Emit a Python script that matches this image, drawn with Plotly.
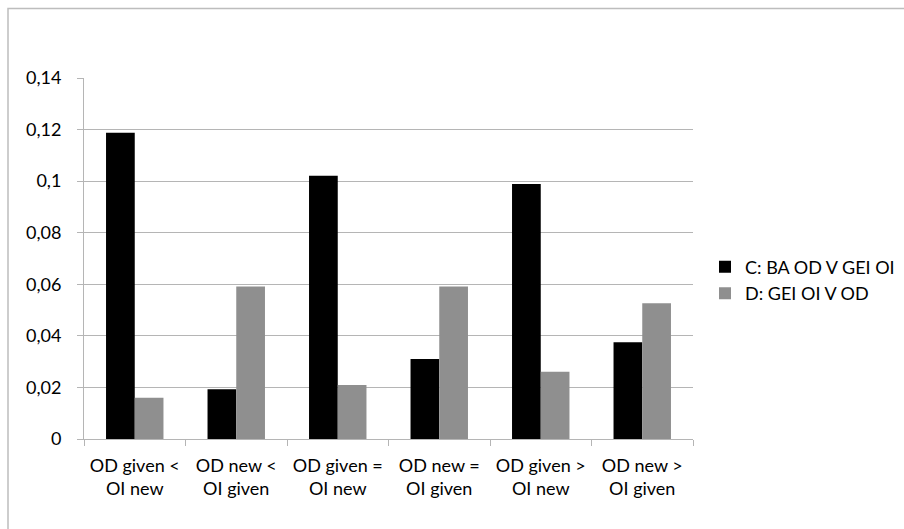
"""Grouped bar chart: C vs D share per OD/OI comparison."""

import plotly.graph_objects as go

categories = [
    "OD given &lt;<br>OI new",
    "OD new &lt;<br>OI given",
    "OD given =<br>OI new",
    "OD new =<br>OI given",
    "OD given &gt;<br>OI new",
    "OD new &gt;<br>OI given",
]
series_c_name = "C: BA OD V GEI OI"
series_c = [0.1188, 0.0193, 0.1021, 0.0310, 0.0989, 0.0375]
series_d_name = "D: GEI OI V OD"
series_d = [0.0160, 0.0591, 0.0209, 0.0591, 0.0261, 0.0526]
y_ticks = [0, 0.02, 0.04, 0.06, 0.08, 0.1, 0.12, 0.14]

W, H = 904, 529
L, R, T, B = 84, 211, 78, 90
pw, ph = W - L - R, H - T - B

fig = go.Figure()
fig.add_trace(go.Bar(x=categories, y=series_c, name=series_c_name,
                     marker=dict(color="#000000", line=dict(width=0))))
fig.add_trace(go.Bar(x=categories, y=series_d, name=series_d_name,
                     marker=dict(color="#8f8f8f", line=dict(width=0))))

grid = "#b5b5b5"
fig.update_layout(
    width=W, height=H,
    margin=dict(l=L, r=R, t=T, b=B, autoexpand=False),
    paper_bgcolor="white", plot_bgcolor="white",
    separators=", ",
    barmode="group", bargap=0.434, bargroupgap=0,
    font=dict(family="Lato, Open Sans, sans-serif", size=18, color="#000000"),
    legend=dict(x=1.0197, y=0.44, xanchor="left", yanchor="middle",
                font=dict(size=18), itemwidth=30, tracegroupgap=4),
    showlegend=True,
)
fig.update_xaxes(
    type="category", tickson="boundaries", ticks="outside", ticklen=6,
    tickcolor=grid, showline=True, linecolor=grid, linewidth=1,
    showgrid=False, ticklabelstandoff=10,
)
fig.update_yaxes(
    range=[0, 0.14], tickvals=y_ticks, ticks="outside", ticklen=6,
    tickcolor=grid, showline=True, linecolor=grid, linewidth=1,
    showgrid=True, gridcolor=grid, gridwidth=1, zeroline=False,
    ticklabelstandoff=12,
)

# outer chart-area frame (only left and top edges fall inside the picture)
fig.add_shape(type="rect", xref="paper", yref="paper",
              x0=(8 - L) / pw, x1=(W + 10 - L) / pw,
              y0=(T + ph - (H + 10)) / ph, y1=(T + ph - 8.5) / ph,
              line=dict(color="#bdbdbd", width=1.5), layer="below")

fig.write_html("out.html", config={"displayModeBar": False},
               post_script="document.body.style.margin='0';")
